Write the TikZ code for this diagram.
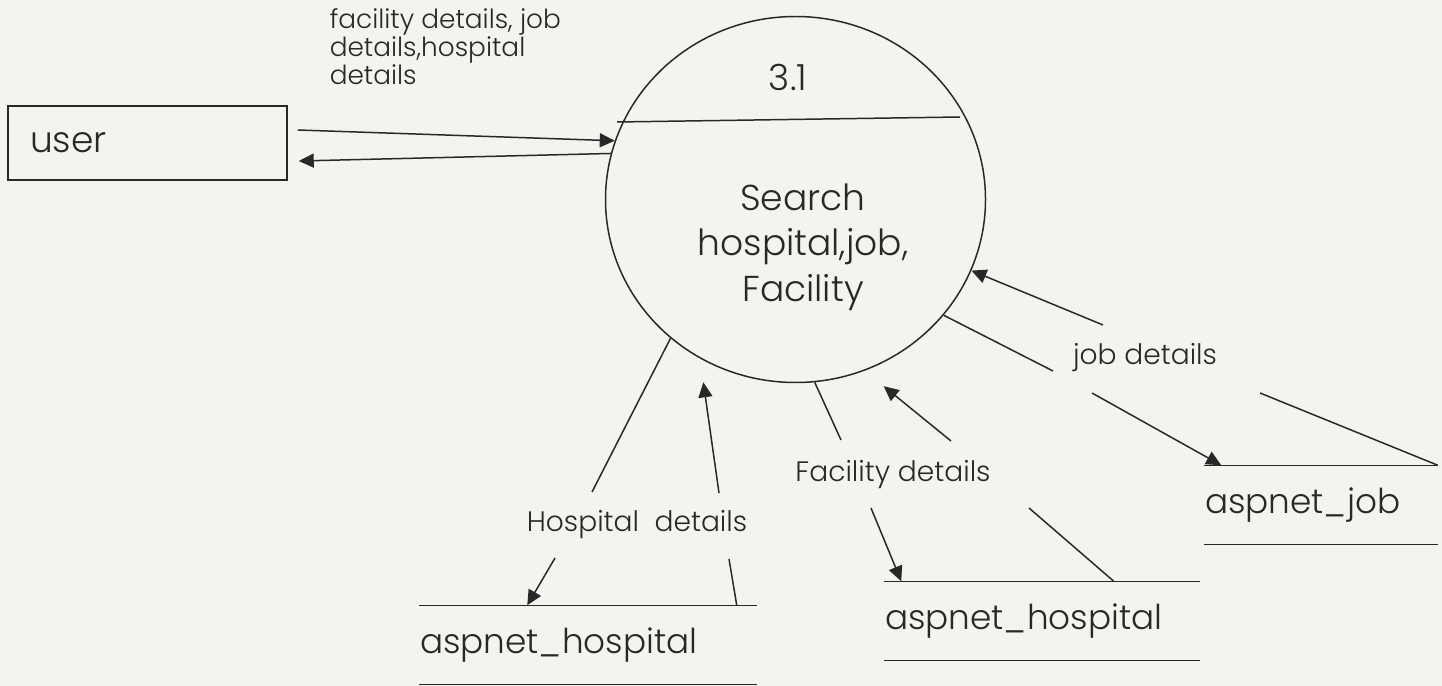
\documentclass[tikz,border=0pt]{standalone}
\usepackage{fontspec}
\setmainfont{Poppins Light}
\usetikzlibrary{shapes.geometric,arrows.meta}
\definecolor{paper}{RGB}{243,243,239}
\definecolor{ink}{RGB}{40,40,40}

\begin{document}
\begin{tikzpicture}[
        color=ink, line width=0.85pt,
        flow/.style={-{Triangle[length=0.3cm,width=0.28cm]}},
        store/.style={minimum height=1.56cm, inner xsep=0pt, align=left, font=\fontsize{19.5}{24}\selectfont},
        lbl/.style={inner sep=0pt, font=\fontsize{16}{19}\selectfont},
        big/.style={font=\fontsize{20.5}{25.9}\selectfont}
    ]
        \useasboundingbox (0,0) rectangle (28.84,-13.72);
        \fill[paper] (0,0) rectangle (28.84,-13.72);

        % Pieces
        \node[draw, big, minimum width=5.58cm, minimum height=1.48cm, text width=4.70cm, inner xsep=0.44cm, align=left] (user) at (2.95,-2.86) {user};
        \node[ellipse, draw, minimum width=7.6cm, minimum height=7.32cm, inner sep=0pt] (proc) at (15.91,-3.99) {};
        \node[big] (num) at (15.76,-1.54) {3.1};
        \node[big, align=center] (name) at (16.06,-4.94) {Search\\hospital,job,\\Facility};
        \node[store, text width=6.72cm] (hs1) at (11.76,-12.9) {aspnet\_hospital};
        \node[store, text width=6.28cm] (hs2) at (20.84,-12.42) {aspnet\_hospital};
        \node[store, text width=4.64cm] (js) at (26.42,-10.1) {aspnet\_job};

        % Labels
        \node[lbl, align=left, anchor=north west, font=\fontsize{15}{15.8}\selectfont] (ulbl) at (6.58,-0.16) {facility details, job\\details,hospital\\details};
        \node[lbl] (hlbl) at (12.74,-10.5) {Hospital\ \ details};
        \node[lbl] (flbl) at (17.86,-9.5) {Facility details};
        \node[lbl] (jlbl) at (22.9,-7.16) {job details};

        % Breaks
        \coordinate (h1a) at (11.84,-9.84);
        \coordinate (h1b) at (11.10,-11.16);
        \coordinate (h2a) at (14.58,-11.18);
        \coordinate (h2b) at (14.38,-9.86);
        \coordinate (f1a) at (16.82,-8.8);
        \coordinate (f1b) at (17.42,-10.16);
        \coordinate (f2a) at (20.58,-10.16);
        \coordinate (f2b) at (19.02,-8.82);
        \coordinate (j1a) at (21.06,-7.42);
        \coordinate (j1b) at (21.84,-7.86);
        \coordinate (j2a) at (25.2,-7.86);
        \coordinate (j2b) at (22.06,-6.5);

        % Lines
        \draw (12.34,-2.44) -- (19.2,-2.34);
        \draw (hs1.north west) -- (hs1.north east);
        \draw (hs1.south west) -- (hs1.south east);
        \draw (hs2.north west) -- (hs2.north east);
        \draw (hs2.south west) -- (hs2.south east);
        \draw (js.north west) -- (js.north east);
        \draw (js.south west) -- (js.south east);

        % Arrows
        \draw[flow] ([xshift=0.2cm,yshift=0.26cm]user.east) -- (proc.162.5);
        \draw[flow] (proc.166) -- ([xshift=0.22cm,yshift=-0.36cm]user.east);
        \draw (proc.228.9) -- (h1a);
        \draw[flow] (h1b) -- ([xshift=2.16cm]hs1.north west);
        \draw ([xshift=-0.4cm]hs1.north east) -- (h2a);
        \draw[flow, shorten >=0.48cm] (h2b) -- (proc.239.2);
        \draw (proc.276.4) -- (f1a);
        \draw[flow] (f1b) -- ([xshift=0.34cm]hs2.north west);
        \draw ([xshift=-1.72cm]hs2.north east) -- (f2a);
        \draw[flow, shorten >=0.49cm] (f2b) -- (proc.292.4);
        \draw (proc.322.8) -- (j1a);
        \draw[flow] (j1b) -- ([xshift=0.34cm]js.north west);
        \draw (js.north east) -- (j2a);
        \draw[flow] (j2b) -- (proc.338.3);
    \end{tikzpicture}
\end{document}
